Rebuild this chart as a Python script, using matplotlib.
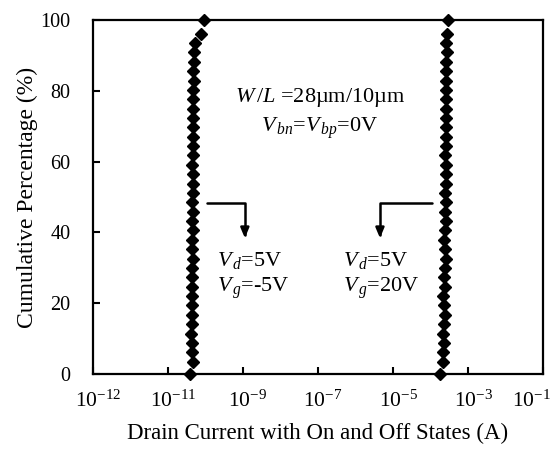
#!/usr/bin/env python3
"""Cumulative distribution of drain current, on and off states."""

import matplotlib
matplotlib.use("Agg")
import matplotlib.pyplot as plt
from matplotlib.transforms import ScaledTranslation

# cumulative percentage shared by both states (bottom -> top)
cum_pct = [0, 3.5, 6.2, 8.8, 11.4, 14.1, 16.8, 19.4, 22.0, 24.7, 27.3, 30.0,
           32.6, 35.3, 37.9, 40.6, 43.2, 45.9, 48.5, 51.2, 53.8, 56.4, 59.1,
           61.8, 64.4, 67.0, 69.7, 72.3, 75.0, 77.6, 80.3, 82.9, 85.6, 88.2,
           90.9, 93.5, 96.2, 100]

# off state (Vg = -5 V), amps
i_off = [3.9e-11, 4.6e-11, 4.4e-11, 4.4e-11, 4.2e-11, 4.4e-11, 4.5e-11,
         4.4e-11, 4.3e-11, 4.5e-11, 4.4e-11, 4.5e-11, 4.6e-11, 4.4e-11,
         4.5e-11, 4.6e-11, 4.5e-11, 4.6e-11, 4.5e-11, 4.6e-11, 4.7e-11,
         4.6e-11, 4.5e-11, 4.7e-11, 4.6e-11, 4.7e-11, 4.8e-11, 4.7e-11,
         4.8e-11, 4.7e-11, 4.8e-11, 4.9e-11, 4.8e-11, 4.9e-11, 4.9e-11,
         5.2e-11, 7.6e-11, 9.3e-11]

# on state (Vg = 20 V), amps
i_on = [1.8e-4, 2.1e-4, 2.2e-4, 2.3e-4, 2.2e-4, 2.3e-4, 2.4e-4, 2.3e-4,
        2.2e-4, 2.4e-4, 2.3e-4, 2.4e-4, 2.5e-4, 2.4e-4, 2.3e-4, 2.4e-4,
        2.5e-4, 2.4e-4, 2.5e-4, 2.4e-4, 2.5e-4, 2.6e-4, 2.5e-4, 2.4e-4,
        2.5e-4, 2.6e-4, 2.5e-4, 2.6e-4, 2.5e-4, 2.6e-4, 2.6e-4, 2.5e-4,
        2.6e-4, 2.6e-4, 2.7e-4, 2.6e-4, 2.7e-4, 2.9e-4]

x_ticks = [1e-13, 1e-11, 1e-9, 1e-7, 1e-5, 1e-3, 1e-1]
# labels as printed on the original axis
x_tick_labels = [r"$10^{-12}$", r"$10^{-11}$", r"$10^{-9}$", r"$10^{-7}$",
                 r"$10^{-5}$", r"$10^{-3}$", r"$10^{-1}$"]
y_ticks = [0, 20, 40, 60, 80, 100]

plt.rcParams["font.family"] = ["Liberation Serif", "DejaVu Serif"]
plt.rcParams["mathtext.fontset"] = "custom"
plt.rcParams["mathtext.rm"] = "Liberation Serif"
plt.rcParams["mathtext.it"] = "Liberation Serif:italic"

FS_TXT = 16

fig = plt.figure(figsize=(5.56, 4.49), dpi=100)
ax = fig.add_axes([0.167, 0.167, 0.81, 0.788])

for xs in (i_off, i_on):
    ax.plot(xs, cum_pct, linestyle="none", marker="D", markersize=6.6,
            color="black", clip_on=False, zorder=3)

ax.set_xscale("log")
ax.set_xlim(1e-13, 1e-1)
ax.set_ylim(0, 100)
ax.set_xticks(x_ticks)
ax.set_xticklabels(x_tick_labels)
ax.minorticks_off()
ax.set_yticks(y_ticks)
ax.tick_params(direction="in", length=5, width=1.5)
ax.tick_params(axis="x", pad=12, labelsize=15.5)
ax.tick_params(axis="y", pad=16, labelsize=14.5)
for sp in ax.spines.values():
    sp.set_linewidth(1.6)

# nudge x labels right like the original, last one kept inside the figure
xlabels = ax.get_xticklabels()
for lab in xlabels[:-1]:
    lab.set_transform(lab.get_transform() +
                      ScaledTranslation(5 / 100, 0, fig.dpi_scale_trans))
xlabels[-1].set_horizontalalignment("right")
xlabels[-1].set_transform(xlabels[-1].get_transform() +
                          ScaledTranslation(8 / 100, 0, fig.dpi_scale_trans))

ax.set_xlabel("Drain Current with On and Off States (A)", fontsize=16.5,
              labelpad=8)
ax.set_ylabel("Cumulative Percentage (%)", fontsize=17, labelpad=2)

ax.text(10 ** -6.95, 78.2, r"$W\,/L$ =28µm/10µm", fontsize=FS_TXT,
        ha="center", va="center")
ax.text(10 ** -6.95, 69.5, r"$V_{\,bn}$=$V_{\,bp}$=0V", fontsize=FS_TXT,
        ha="center", va="center")

ax.text(10 ** -9.69, 32.2, r"$V_{\,d}$=5V", fontsize=FS_TXT, va="center")
ax.text(10 ** -9.69, 24.3, r"$V_{\,g}$=-5V", fontsize=FS_TXT, va="center")
ax.text(10 ** -6.33, 32.2, r"$V_{\,d}$=5V", fontsize=FS_TXT, va="center")
ax.text(10 ** -6.33, 24.3, r"$V_{\,g}$=20V", fontsize=FS_TXT, va="center")

arrow = dict(arrowstyle="-|>,head_length=0.6,head_width=0.25", color="black",
             lw=1.8, shrinkA=0, shrinkB=0,
             connectionstyle="angle,angleA=0,angleB=90,rad=0")
ax.annotate("", xy=(10 ** -8.95, 38.4), xytext=(10 ** -9.96, 48.3),
            arrowprops=arrow)
ax.annotate("", xy=(10 ** -5.35, 38.4), xytext=(10 ** -3.96, 48.3),
            arrowprops=arrow)

fig.savefig("out.png", dpi=100)
plt.close(fig)
